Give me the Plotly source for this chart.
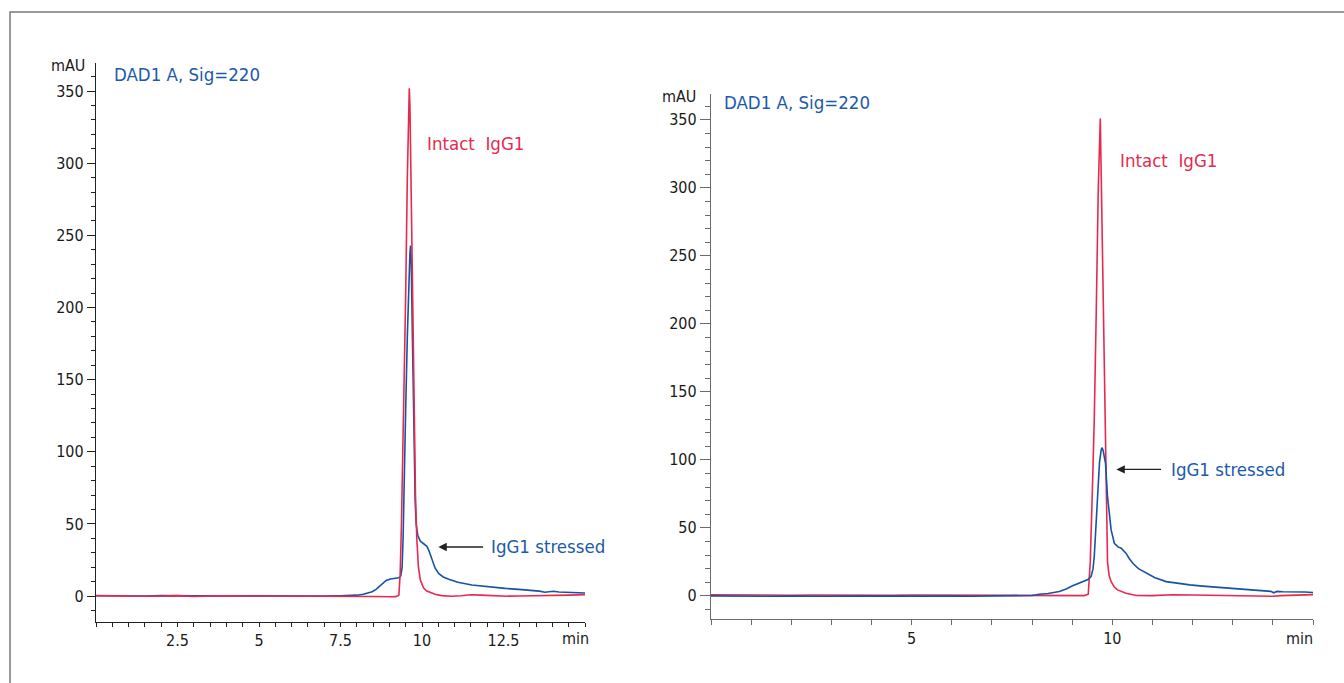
import plotly.graph_objects as go

# ---------------- data ----------------
left_time_intact = [0.0, 0.5, 1.0, 1.5, 2.0, 2.5, 3.0, 3.5, 4.0, 4.5, 5.0, 5.5, 6.0, 6.5, 7.0, 7.5, 8.0, 8.5, 9.0, 9.2,
                    9.29, 9.33, 9.37, 9.40, 9.45, 9.50, 9.55, 9.59, 9.61, 9.63, 9.66, 9.69, 9.73, 9.77, 9.80, 9.84,
                    9.89, 9.95, 10.05, 10.15, 10.26, 10.4, 10.6, 10.9, 11.2, 11.5, 11.8, 12.2, 12.6, 13.0, 13.5,
                    14.0, 14.5, 15.0]
left_intact = [0.3, 0.0, 0.2, -0.2, 0.0, 0.3, -0.3, 0.0, 0.2, 0.0, 0.0, 0.2, 0.0, -0.2, 0.0, 0.0, 0.0, -0.3, -0.5, -0.4,
               0.5, 15, 50, 85, 150, 210, 290, 345, 352, 340, 290, 226, 150, 95, 70, 40,
               20, 11, 5.5, 3.5, 2.3, 1.2, 0.3, -0.2, 0.2, 0.9, 0.6, 0.0, -0.1, 0.0, 0.1,
               0.0, 0.6, 1.0]

left_time_stressed = [0.0, 0.5, 1.0, 1.5, 2.0, 2.5, 3.0, 3.5, 4.0, 4.5, 5.0, 5.5, 6.0, 6.5, 7.0, 7.5, 7.8, 8.0, 8.2,
                      8.35, 8.47, 8.6, 8.7, 8.78, 8.9, 9.03, 9.15, 9.29, 9.35, 9.39, 9.42, 9.45, 9.5, 9.55, 9.6,
                      9.63, 9.65, 9.67, 9.7, 9.73, 9.76, 9.79, 9.82, 9.87, 9.95, 10.05, 10.15, 10.22, 10.31, 10.4,
                      10.51, 10.65, 10.82, 11.1, 11.53, 12.0, 12.55, 12.96, 13.3, 13.6, 13.77, 13.9, 14.03, 14.2,
                      14.5, 14.9, 15.0]
left_stressed = [0.2, 0.0, 0.2, 0.0, 0.3, 0.1, 0.0, 0.2, 0.0, 0.1, 0.0, 0.1, 0.0, 0.1, 0.0, 0.2, 0.3, 0.6, 1.2,
                 2.0, 3.0, 4.8, 6.8, 8.8, 10.8, 11.8, 12.3, 12.7, 14.0, 20, 40, 80, 130, 180, 222,
                 238, 243, 232, 188, 136, 95, 66, 50, 42, 38, 36, 34.5, 31, 25, 19.5,
                 15.7, 13.2, 11.6, 9.6, 7.6, 6.4, 5.3, 4.6, 4.0, 3.4, 2.6, 2.9, 3.3, 2.8,
                 2.6, 2.2, 2.1]

right_time_intact = [0.0, 0.5, 1.0, 1.5, 2.0, 2.5, 3.0, 3.5, 4.0, 4.5, 5.0, 5.5, 6.0, 6.5, 7.0, 7.5, 8.0, 8.5, 9.0,
                     9.3, 9.40, 9.45, 9.50, 9.55, 9.60, 9.65, 9.70, 9.74, 9.78, 9.82, 9.86, 9.88, 9.92, 9.97,
                     10.05, 10.13, 10.34, 10.6, 11.0, 11.5, 12.0, 12.5, 13.0, 13.5, 14.0, 14.2, 14.5, 15.0]
right_intact = [0.8, 0.6, 0.5, 0.6, 0.5, 0.7, 0.5, 0.6, 0.5, 0.4, 0.6, 0.5, 0.6, 0.4, 0.5, 0.4, 0.3, 0.0, 0.0,
                0.2, 1.2, 25, 75, 130, 210, 300, 351, 280, 205, 132, 60, 25, 15, 10.5,
                6.5, 4.4, 2.0, 0.3, 0.2, 0.8, 0.6, 0.3, 0.2, 0.0, -0.3, 0.2, 0.3, 0.9]

right_time_stressed = [0.0, 0.5, 1.0, 1.5, 2.0, 2.5, 3.0, 3.5, 4.0, 4.5, 5.0, 5.5, 6.0, 6.5, 7.0, 7.5, 7.8, 8.0,
                       8.18, 8.4, 8.68, 8.85, 9.01, 9.18, 9.3, 9.38, 9.47, 9.52, 9.55, 9.59, 9.63, 9.68, 9.72,
                       9.74, 9.77, 9.80, 9.83, 9.88, 9.92, 9.97, 10.05, 10.14, 10.22, 10.34, 10.42, 10.51, 10.65,
                       10.84, 11.05, 11.34, 11.6, 11.93, 12.25, 12.59, 12.9, 13.18, 13.5, 13.8, 13.95, 14.02,
                       14.1, 14.25, 14.5, 14.8, 15.0]
right_stressed = [0.0, -0.2, 0.0, -0.3, -0.2, 0.0, -0.3, -0.2, -0.1, -0.3, -0.2, -0.3, -0.2, -0.3, -0.2, -0.1, 0.0, 0.3,
                  1.2, 1.8, 3.2, 5.0, 7.4, 9.3, 10.8, 11.8, 14.2, 20, 29, 50, 73, 98, 107,
                  109, 107, 102, 97.5, 73, 60, 48.5, 38.7, 36, 35, 31.4, 27.5, 24, 20,
                  16.7, 13.5, 10.5, 9.2, 8.1, 7.2, 6.4, 5.7, 5.1, 4.5, 3.9, 3.3, 2.3,
                  3.3, 3.0, 3.1, 2.8, 2.5]

left_xticks = [2.5, 5, 7.5, 10, 12.5, 15]
left_xticktext = ["2.5", "5", "7.5", "10", "12.5", ""]
right_xticks = [5, 10, 15]
right_xticktext = ["5", "10", ""]
y_ticks = [0, 50, 100, 150, 200, 250, 300, 350]

# ---------------- styling ----------------
W, H = 1344, 683
RED = "#e8294f"
BLUE = "#1553a5"
TXT_BLUE = "#1a5aab"
TXT_RED = "#e42a52"
FONT = "DejaVu Sans Condensed, DejaVu Sans, sans-serif"
TICKFONT = dict(family=FONT, size=16, color="#1a1a1a")

fig = go.Figure()
fig.add_trace(go.Scatter(x=left_time_stressed, y=left_stressed, mode="lines",
                         line=dict(color=BLUE, width=1.6), xaxis="x", yaxis="y"))
fig.add_trace(go.Scatter(x=left_time_intact, y=left_intact, mode="lines",
                         line=dict(color=RED, width=1.6), xaxis="x", yaxis="y"))
fig.add_trace(go.Scatter(x=right_time_intact, y=right_intact, mode="lines",
                         line=dict(color=RED, width=1.6), xaxis="x2", yaxis="y2"))
fig.add_trace(go.Scatter(x=right_time_stressed, y=right_stressed, mode="lines",
                         line=dict(color=BLUE, width=1.6), xaxis="x2", yaxis="y2"))


def px_x(p):
    return p / W


def px_y(p):
    return 1 - p / H


def xaxis_cfg(domain, ticks, text, color, tlen):
    return dict(domain=domain, range=[0, 15], showgrid=False, zeroline=False,
                showline=True, linecolor=color, linewidth=1.3, mirror=False,
                tickmode="array", tickvals=ticks, ticktext=text,
                ticks="outside", ticklen=tlen, tickcolor=color, tickwidth=1,
                tickfont=TICKFONT, fixedrange=True)


def yaxis_cfg(domain, rng, color, major, minor):
    return dict(domain=domain, range=rng, showgrid=False, zeroline=False,
                showline=True, linecolor=color, linewidth=1.3,
                tickmode="array", tickvals=y_ticks,
                ticks="outside", ticklen=major, tickcolor=color, tickwidth=1,
                tickfont=TICKFONT, fixedrange=True,
                minor=dict(dtick=10, tick0=0, ticks="outside", ticklen=minor,
                           tickcolor=color, tickwidth=1, showgrid=False))


lx = xaxis_cfg([px_x(96), px_x(585)], left_xticks, left_xticktext, "#222222", 4)
lx["anchor"] = "y"
lx["minor"] = dict(dtick=0.5, tick0=0, ticks="outside", ticklen=4, tickcolor="#222222",
                   tickwidth=1, showgrid=False)
rx = xaxis_cfg([px_x(711), px_x(1313)], right_xticks, right_xticktext, "#6a6a6a", 5)
rx["anchor"] = "y2"
rx["minor"] = dict(dtick=1, tick0=0, ticks="outside", ticklen=5, tickcolor="#6a6a6a",
                   tickwidth=1, showgrid=False)

ly = yaxis_cfg([px_y(622), px_y(63)], [-18, 369.5], "#222222", 8, 4)
ly["anchor"] = "x"
ry = yaxis_cfg([px_y(619), px_y(94)], [-17, 369], "#6a6a6a", 10, 5)
ry["anchor"] = "x2"

ANN = dict(family=FONT, size=18.5)
annotations = [
    # signal labels
    dict(text="DAD1 A, Sig=220", xref="paper", yref="paper", x=px_x(112), y=px_y(75),
         xanchor="left", yanchor="middle", showarrow=False, font=dict(ANN, color=TXT_BLUE)),
    dict(text="DAD1 A, Sig=220", xref="paper", yref="paper", x=px_x(722), y=px_y(103),
         xanchor="left", yanchor="middle", showarrow=False, font=dict(ANN, color=TXT_BLUE)),
    # unit labels
    dict(text="mAU", xref="paper", yref="paper", x=px_x(87), y=px_y(65),
         xanchor="right", yanchor="middle", showarrow=False, font=TICKFONT),
    dict(text="mAU", xref="paper", yref="paper", x=px_x(698), y=px_y(96),
         xanchor="right", yanchor="middle", showarrow=False, font=TICKFONT),
    dict(text="min", xref="paper", yref="paper", x=px_x(575), y=px_y(638),
         xanchor="center", yanchor="middle", showarrow=False, font=TICKFONT),
    dict(text="min", xref="paper", yref="paper", x=px_x(1299), y=px_y(638),
         xanchor="center", yanchor="middle", showarrow=False, font=TICKFONT),
    # peak labels, left
    dict(text="Intact\u00a0 IgG1", xref="x", yref="y", x=10.1, y=314,
         xanchor="left", yanchor="middle", showarrow=False, font=dict(ANN, color=TXT_RED)),
    dict(text="IgG1 stressed", xref="x", yref="y", x=12.05, y=34,
         xanchor="left", yanchor="middle", showarrow=False, font=dict(ANN, color=TXT_BLUE)),
    dict(text="", xref="x", yref="y", axref="x", ayref="y", x=10.5, y=34, ax=11.92, ay=34,
         showarrow=True, arrowhead=2, arrowsize=1.3, arrowwidth=1.3, arrowcolor="#222222"),
    # peak labels, right
    dict(text="Intact\u00a0 IgG1", xref="x2", yref="y2", x=10.13, y=320,
         xanchor="left", yanchor="middle", showarrow=False, font=dict(ANN, color=TXT_RED)),
    dict(text="IgG1 stressed", xref="x2", yref="y2", x=11.42, y=93,
         xanchor="left", yanchor="middle", showarrow=False, font=dict(ANN, color=TXT_BLUE)),
    dict(text="", xref="x2", yref="y2", axref="x2", ayref="y2", x=10.1, y=93, ax=11.25, ay=93,
         showarrow=True, arrowhead=2, arrowsize=1.3, arrowwidth=1.3, arrowcolor="#222222"),
]

shapes = [
    dict(type="rect", xref="paper", yref="paper", x0=px_x(10), y0=-0.05, x1=1.05, y1=px_y(12),
         line=dict(color="#7a7a7a", width=1.5), fillcolor="rgba(0,0,0,0)"),
]

fig.update_layout(
    width=W, height=H, margin=dict(l=0, r=0, t=0, b=0),
    paper_bgcolor="white", plot_bgcolor="white", showlegend=False,
    xaxis=lx, yaxis=ly, xaxis2=rx, yaxis2=ry,
    annotations=annotations, shapes=shapes,
    font=dict(family=FONT),
)

fig.write_html("out.html")
